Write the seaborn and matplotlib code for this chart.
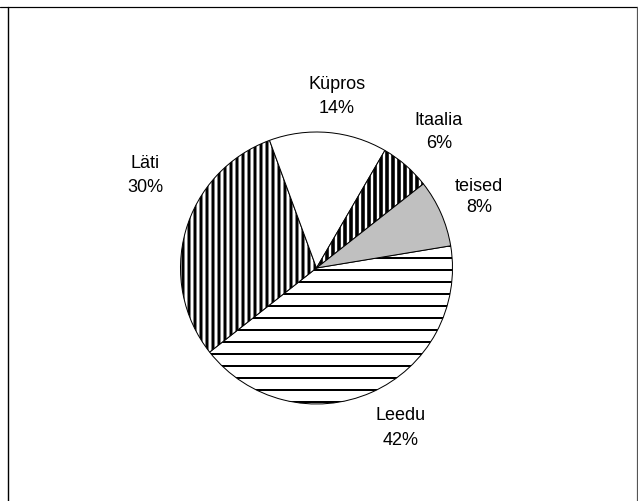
import matplotlib
matplotlib.use("Agg")
import matplotlib.pyplot as plt
import seaborn as sns

# Data (clockwise from the right-hand side)
countries = ["Leedu", "Läti", "Küpros", "Itaalia", "teised"]
shares = [42, 30, 14, 6, 8]

# styling per slice
face_colors = ["white", "white", "white", "white", "#c0c0c0"]
hatches = ["-", "||", None, "||", None]
hatch_widths = [2.0, 3.0, 1.0, 3.6, 1.0]

# label anchor (x, baseline of name, baseline of percent) in pixels from top-left
label_pos = {
    "Leedu": (401, 420, 445),
    "Läti": (145, 168, 192),
    "Küpros": (337, 89, 113),
    "Itaalia": (439, 125, 148),
    "teised": (479, 191, 212),
}

sns.set_style("white")
plt.rcParams["font.family"] = ["Liberation Sans", "DejaVu Sans"]

W, H, DPI = 638, 501, 72
fig = plt.figure(figsize=(W / DPI, H / DPI), dpi=DPI)
ax = fig.add_axes([0, 0, 1, 1])
ax.axis("off")

wedges, _ = ax.pie(shares, startangle=9.4, counterclock=False,
                   center=(316.5, H - 268), radius=136, colors=face_colors,
                   wedgeprops=dict(edgecolor="black", linewidth=1.0))
ax.set_xlim(0, W)
ax.set_ylim(0, H)
ax.set_aspect("equal")

for w, h, lw in zip(wedges, hatches, hatch_widths):
    if h:
        w.set_hatch(h)
        if hasattr(w, "set_hatch_linewidth"):
            w.set_hatch_linewidth(lw)

for name, val in zip(countries, shares):
    x, y1, y2 = label_pos[name]
    ax.text(x, H - y1, name, ha="center", va="baseline", fontsize=18, color="black")
    ax.text(x, H - y2, f"{val}%", ha="center", va="baseline", fontsize=18, color="black")

# outer frame
ax.plot([0, W], [H - 7, H - 7], color="black", lw=1.2, clip_on=False)
ax.plot([8, 8], [0, H - 7], color="black", lw=1.4, clip_on=False)
ax.plot([637, 637], [0, H - 7], color="#555555", lw=1.2, clip_on=False)

fig.savefig("out.png", dpi=DPI)
